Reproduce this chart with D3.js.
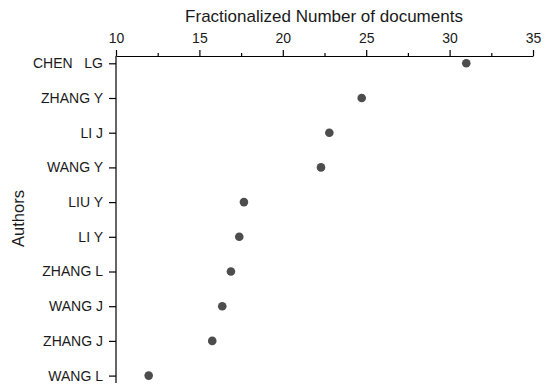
<!DOCTYPE html>
<html>
<head>
<meta charset="utf-8">
<script src="https://cdn.jsdelivr.net/npm/d3@7"></script>
<style>
  body { margin: 0; background: #fff; }
  svg text { font-family: "Liberation Sans", Arial, sans-serif; fill: #1a1a1a; }
</style>
</head>
<body>
<svg id="chart" width="550" height="391"></svg>
<script>
const authors = ["CHEN   LG", "ZHANG Y", "LI J", "WANG Y", "LIU Y", "LI Y", "ZHANG L", "WANG J", "ZHANG J", "WANG L"];
const documents = [31.0, 24.73, 22.79, 22.29, 17.67, 17.39, 16.89, 16.37, 15.77, 11.96];
const xTicks = [10, 15, 20, 25, 30, 35];
const xMinorTicks = [12.5, 17.5, 22.5, 27.5, 32.5];

const svg = d3.select("#chart");

const x = d3.scaleLinear().domain([10, 35]).range([116, 533]);
const y = d3.scalePoint().domain(authors).range([63.3, 375.6]);

// x axis on top, major + minor ticks
const xAxis = svg.append("g")
  .attr("transform", "translate(0,56)")
  .call(d3.axisTop(x).tickValues(xTicks).tickSize(6).tickSizeOuter(0).tickPadding(7));
xAxis.selectAll("text").attr("font-size", 14);

svg.append("g")
  .attr("transform", "translate(0,56)")
  .call(d3.axisTop(x).tickValues(xMinorTicks).tickSize(3).tickFormat(""))
  .call(g => g.select(".domain").remove());

// y axis on left
const yAxis = svg.append("g")
  .attr("transform", "translate(116,0)")
  .call(d3.axisLeft(y).tickSize(7).tickPadding(6))
  .call(g => g.select(".domain").remove());
yAxis.selectAll("text").attr("font-size", 14).style("white-space", "pre");

svg.append("line")
  .attr("x1", 116).attr("x2", 116)
  .attr("y1", 56).attr("y2", 383)
  .attr("stroke", "#000")
  .attr("stroke-width", 1.2);

svg.selectAll(".tick line").attr("stroke", "#000").attr("stroke-width", 1.2);
svg.selectAll(".domain").attr("stroke", "#000").attr("stroke-width", 1.2);

// points
svg.append("g")
  .selectAll("circle")
  .data(authors)
  .join("circle")
  .attr("cx", (d, i) => x(documents[i]))
  .attr("cy", d => y(d))
  .attr("r", 4.3)
  .attr("fill", "#4d4d4d");

// titles
svg.append("text")
  .attr("x", 324).attr("y", 21.7)
  .attr("text-anchor", "middle")
  .attr("font-size", 17)
  .text("Fractionalized Number of documents");

svg.append("text")
  .attr("transform", "translate(24,218.5) rotate(-90)")
  .attr("text-anchor", "middle")
  .attr("font-size", 16.5)
  .text("Authors");
</script>
</body>
</html>
